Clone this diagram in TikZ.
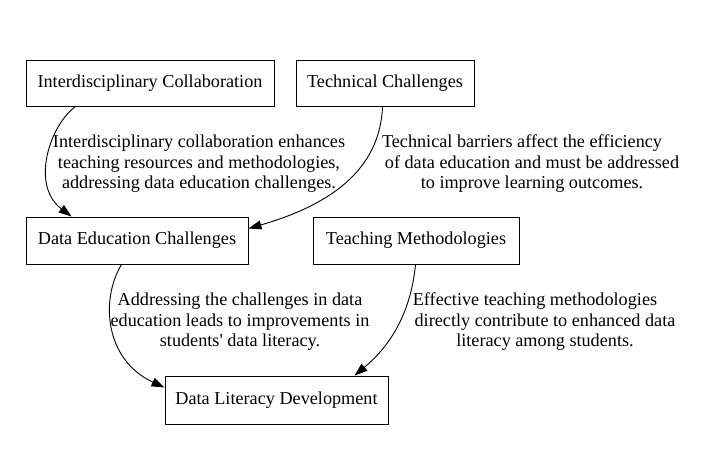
\documentclass[tikz,border=0pt]{standalone}
\usepackage{fontspec}
\setmainfont{Liberation Serif}[Ligatures=TeXOff]
\usetikzlibrary{arrows.meta,calc}
\begin{document}
\begin{tikzpicture}[x=1pt,y=-1pt,
  box/.style={draw,line width=0.9pt,rectangle,inner sep=0pt,font=\fontsize{18.2}{20.5}\selectfont},
  lbl/.style={align=center,inner sep=0pt,font=\fontsize{18.2}{20.5}\selectfont},
  edge/.style={line width=0.9pt,-{Triangle[length=13pt,width=9pt]}}]
\useasboundingbox[fill=white] (0,0) rectangle (709,451);
\node[box,minimum width=248pt,minimum height=46pt] (IC) at (150,83) {Interdisciplinary Collaboration};
\node[box,minimum width=178pt,minimum height=46pt] (TC) at (385,83) {Technical Challenges};
\node[box,minimum width=222pt,minimum height=47pt] (DEC) at (137,240.5) {Data Education Challenges};
\node[box,minimum width=206pt,minimum height=47pt] (TM) at (416,240.5) {Teaching Methodologies};
\node[box,minimum width=223pt,minimum height=48pt] (DLD) at (276.5,400) {Data Literacy Development};

\node[lbl] (L1) at (199,164) {Interdisciplinary collaboration enhances\\teaching resources and methodologies,\hspace*{5pt}\\addressing data education challenges.};
\node[lbl] (L2) at (532,164) {Technical barriers affect the efficiency\hspace*{20pt}\\of data education and must be addressed\\to improve learning outcomes.};
\node[lbl] (L3) at (240,322) {Addressing the challenges in data\\education leads to improvements in\\students' data literacy.};
\node[lbl] (L4) at (545,322) {Effective teaching methodologies\hspace*{20pt}\\directly contribute to enhanced data\\literacy among students.};

\draw[edge] ($(IC.south west)+(50,0)$) .. controls (50,125) and (30,185) .. ($(DEC.north west)+(46,0)$);
\draw[edge] ($(TC.south west)+(87,0)$) .. controls (380,170) and (330,205) .. ($(DEC.east)+(0,-12)$);
\draw[edge] ($(DEC.south west)+(96,0)$) .. controls (100,300) and (105,360) .. ($(DLD.north west)+(0,12)$);
\draw[edge] ($(TM.south west)+(103,0)$) .. controls (410,320) and (385,350) .. ($(DLD.north west)+(190,0)$);
\end{tikzpicture}
\end{document}
